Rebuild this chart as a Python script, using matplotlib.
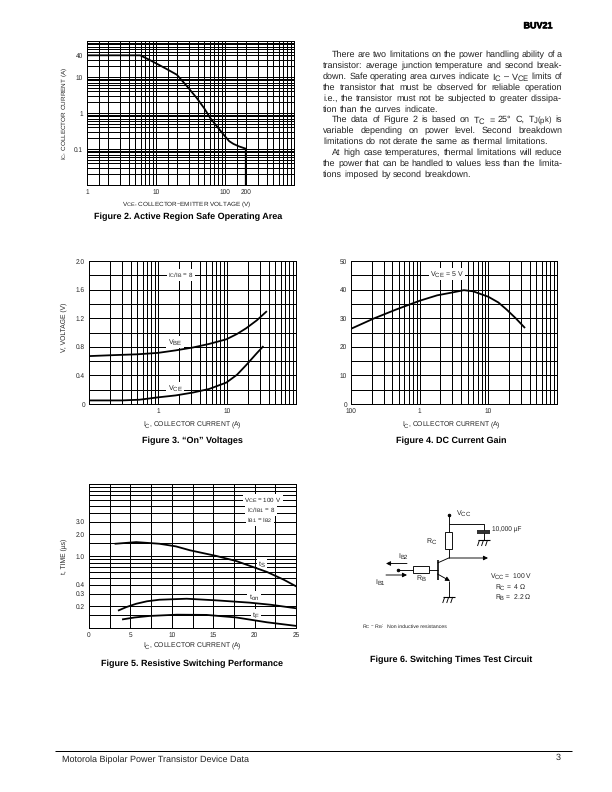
import matplotlib
matplotlib.use("Agg")
import matplotlib.pyplot as plt
import matplotlib.patheffects as pe
import matplotlib._mathtext as mathtext_internal
from matplotlib.patches import Rectangle
from matplotlib.ticker import NullFormatter

plt.rcParams['font.family'] = ['Liberation Sans', 'DejaVu Sans']
plt.rcParams['mathtext.default'] = 'regular'
plt.rcParams['text.hinting'] = 'no_hinting'
# subscripts in the datasheet are nearly full size
mathtext_internal.SHRINK_FACTOR = 0.85

# Figure 2 - safe operating area
soa_v = [1, 3, 5.9, 7.5, 10, 14, 20, 28, 39, 50, 61, 80, 100, 115, 133, 160, 200, 200]
soa_i = [40, 40, 40, 32, 24, 17, 11.6, 5.6, 2.6, 1.35, 0.73, 0.38, 0.225, 0.165, 0.138, 0.118, 0.102, 0.01]
soa_xgrid = [1, 1.5, 2, 3, 4, 5, 6, 7, 8, 9, 10, 15, 20, 30, 40, 50, 60, 70, 80, 90, 100,
             150, 200, 300, 400, 500, 600, 700, 800, 900, 1000]
soa_ygrid = [0.02, 0.03, 0.04, 0.05, 0.06, 0.07, 0.08, 0.09, 0.1, 0.2, 0.3, 0.4, 0.5, 0.6, 0.7, 0.8, 0.9,
             1, 2, 3, 4, 5, 6, 7, 8, 9, 10, 20, 30, 40, 50, 60, 70, 80, 90]
soa_xticks = [1, 10, 100, 200]
soa_xlabels = ['1', '10', '100', '200']
soa_yticks = [0.1, 1, 10, 40]
soa_ylabels = ['0.1', '1', '10', '40']

# Figure 3 and 4 share the log current axis
ic_xgrid = [0.2, 0.3, 0.4, 0.5, 0.6, 0.7, 0.8, 0.9, 1, 2, 3, 4, 5, 6, 7, 8, 9, 10,
            20, 30, 40, 50, 60, 70, 80, 90]

# Figure 3 - on voltages
vbe_i = [0.1, 0.25, 0.5, 1.0, 1.8, 3.2, 5.5, 9.8, 14, 19, 27, 37]
vbe_v = [0.67, 0.685, 0.695, 0.715, 0.75, 0.79, 0.84, 0.905, 0.98, 1.06, 1.17, 1.29]
vce_i = [0.1, 0.3, 0.54, 1.0, 1.8, 3.2, 5.5, 9.8, 14, 19.2, 27, 33]
vce_v = [0.05, 0.05, 0.06, 0.093, 0.12, 0.16, 0.21, 0.30, 0.41, 0.55, 0.71, 0.80]
von_yticks = [0, 0.4, 0.8, 1.2, 1.6, 2.0]
von_ylabels = ['0', '0.4', '0.8', '1.2', '1.6', '2.0']
von_ygrid = [0.2, 0.6, 1.0, 1.4, 1.8]
von_xticks = [1, 10]
von_xlabels = ['1', '10']

# Figure 4 - dc gain
gain_i = [0.1, 0.215, 0.45, 1, 1.8, 3, 4.4, 6, 10, 14, 18.5, 25, 33.5]
gain_h = [26.3, 29.9, 33.0, 36.1, 38.0, 39.0, 39.8, 39.4, 37.5, 35.5, 33, 30, 26.8]
gain_yticks = [0, 10, 20, 30, 40, 50]
gain_ygrid = [5, 15, 25, 35, 45]
gain_xticks = [0.1, 1, 10]
gain_xlabels = ['100', '1', '10']

# Figure 5 - switching times
ts_i = [3.2, 5.7, 8.5, 10.5, 12.2, 15.4, 17.8, 21.5, 23.5, 25]
ts_t = [1.48, 1.56, 1.48, 1.36, 1.2, 1.0, 0.85, 0.6, 0.47, 0.38]
ton_i = [3.6, 4.5, 5.7, 7, 8.5, 11.8, 15.4, 19.4, 22, 25]
ton_t = [0.176, 0.195, 0.217, 0.235, 0.247, 0.255, 0.242, 0.225, 0.21, 0.188]
tf_i = [4.1, 5.5, 7.3, 10.6, 14.2, 17.8, 21.5, 25]
tf_t = [0.132, 0.14, 0.147, 0.153, 0.152, 0.14, 0.12, 0.107]
time_xticks = [0, 5, 10, 15, 20, 25]
time_xgrid = [2.5, 7.5, 12.5, 17.5, 22.5]
time_yticks = [0.2, 0.3, 0.4, 1.0, 2.0, 3.0]
time_ylabels = ['0.2', '0.3', '0.4', '1.0', '2.0', '3.0']
time_ygrid = [0.15, 0.2, 0.3, 0.4, 0.5, 0.6, 0.7, 0.8, 0.9, 1.0, 1.5, 2, 3, 4, 5, 6, 7, 8, 9]

body_lines = [
    (332, True, "There are two limitations on the power handling ability of a"),
    (323, True, "transistor: average junction temperature and second break-"),
    (323, True, "down. Safe operating area curves indicate I$_C$ – V$_{CE}$ limits of"),
    (323, True, "the transistor that must be observed for reliable operation"),
    (323, True, "i.e., the transistor must not be subjected to greater dissipa-"),
    (323, False, "tion than the curves indicate."),
    (332, True, "The data of Figure 2 is based on T$_C$ = 25° C, T$_{J(pk)}$ is"),
    (323, True, "variable depending on power level. Second breakdown"),
    (323, False, "limitations do not derate the same as thermal limitations."),
    (332, True, "At high case temperatures, thermal limitations will reduce"),
    (323, True, "the power that can be handled to values less than the limita-"),
    (323, False, "tions imposed by second breakdown."),
]

fig = plt.figure(figsize=(8.5, 11), dpi=72)
W, H = 612, 792

# page overlay in pixel coordinates for text and the circuit
pg = fig.add_axes([0, 0, 1, 1], facecolor='none', zorder=10)
pg.set_xlim(0, W)
pg.set_ylim(H, 0)
pg.axis('off')


def chart(left, top, right, bottom):
    ax = fig.add_axes([left / W, 1 - bottom / H, (right - left) / W, (bottom - top) / H])
    ax.tick_params(which='both', length=0, labelsize=6.5, pad=4, labelcolor='#222222')
    ax.set_axisbelow(True)
    for s in ax.spines.values():
        s.set_linewidth(1.0)
    return ax


def grid_setup(ax, xticks, xlabels, yticks, ylabels, xminor, yminor):
    ax.set_xticks(xticks)
    ax.set_xticklabels(xlabels)
    ax.set_yticks(yticks)
    ax.set_yticklabels(ylabels)
    ax.set_xticks(xminor, minor=True)
    ax.set_yticks(yminor, minor=True)
    ax.xaxis.set_minor_formatter(NullFormatter())
    ax.yaxis.set_minor_formatter(NullFormatter())
    ax.grid(which='both', color='black', lw=1.0)


ax2 = chart(87, 41, 294, 185)
ax2.set_xscale('log')
ax2.set_yscale('log')
ax2.set_xlim(1, 1000)
ax2.set_ylim(0.01, 100)
grid_setup(ax2, soa_xticks, soa_xlabels, soa_yticks, soa_ylabels, soa_xgrid, soa_ygrid)
ax2.plot(soa_v, soa_i, color='black', lw=1.8)

ax3 = chart(89, 261, 296, 404)
ax3.set_xscale('log')
ax3.set_xlim(0.1, 100)
ax3.set_ylim(0, 2)
grid_setup(ax3, von_xticks, von_xlabels, von_yticks, von_ylabels, ic_xgrid, von_ygrid)
ax3.plot(vbe_i, vbe_v, color='black', lw=1.8)
ax3.plot(vce_i, vce_v, color='black', lw=1.8)

ax4 = chart(351, 261, 557, 404)
ax4.set_xscale('log')
ax4.set_xlim(0.1, 100)
ax4.set_ylim(0, 50)
grid_setup(ax4, gain_xticks, gain_xlabels, gain_yticks, [str(v) for v in gain_yticks], ic_xgrid, gain_ygrid)
ax4.plot(gain_i, gain_h, color='black', lw=1.8)

ax5 = chart(89, 484, 296, 628)
ax5.set_yscale('log')
ax5.set_xlim(0, 25)
ax5.set_ylim(0.1, 10)
grid_setup(ax5, time_xticks, [str(v) for v in time_xticks], time_yticks, time_ylabels, time_xgrid, time_ygrid)
ax5.plot(ts_i, ts_t, color='black', lw=1.8)
ax5.plot(ton_i, ton_t, color='black', lw=1.8)
ax5.plot(tf_i, tf_t, color='black', lw=1.8)


def txt(x, y, s, size=6.7, ha='center', va='center', **kw):
    kw.setdefault('color', '#222222')
    return pg.text(x, y, s, fontsize=size, ha=ha, va=va, **kw)


def boxed(ax, x, y, s, size=6.5):
    # white patch sits over the grid but under the curves
    ax.text(x, y, s, transform=pg.transData, fontsize=size, ha='center', va='center', color='#222222',
            zorder=1.5, bbox=dict(facecolor='white', edgecolor='none', pad=1.5))


def line(xs, ys, lw=0.9):
    pg.plot(xs, ys, color='black', lw=lw, solid_capstyle='butt')


def arrow(x0, y0, x1, y1):
    pg.annotate('', xy=(x1, y1), xytext=(x0, y0),
                arrowprops=dict(arrowstyle='-|>', color='black', lw=0.9, mutation_scale=9, shrinkA=0, shrinkB=0))


def ground(x, y):
    line([x - 6, x + 6], [y, y], lw=1.1)
    for dx in (-4, 0, 4):
        line([x + dx, x + dx - 2], [y, y + 6], lw=0.9)


# header and body
txt(538, 26, 'BUV21', size=9, weight='bold', color='black',
    path_effects=[pe.withStroke(linewidth=0.6, foreground='black')])
fig.canvas.draw()
renderer = fig.canvas.get_renderer()
for i, (x0, justify, s) in enumerate(body_lines):
    # whole pixel baselines, agg rounds fractional ones word by word
    y = round(57 + i * 10.9) + 0.2
    words = s.split(' ')
    items = [txt(0, y, w, size=9, ha='left', va='baseline') for w in words]
    widths = [t.get_window_extent(renderer).width for t in items]
    gap = (562 - x0 - sum(widths)) / (len(words) - 1) if justify else 2.5
    xpos = x0
    for t, w in zip(items, widths):
        t.set_x(xpos)
        xpos += w + gap

# captions and axis titles
txt(188, 217, 'Figure 2. Active Region Safe Operating Area', size=9, weight='bold', color='black')
txt(192, 441, 'Figure 3. “On” Voltages', size=9, weight='bold', color='black')
txt(451, 441, 'Figure 4. DC Current Gain', size=9, weight='bold', color='black')
txt(192, 664, 'Figure 5. Resistive Switching Performance', size=9, weight='bold', color='black')
txt(451, 660, 'Figure 6. Switching Times Test Circuit', size=9, weight='bold', color='black')

txt(187, 204, 'V$_{CE}$, COLLECTOR–EMITTER VOLTAGE (V)', size=6.4)
txt(64, 113, 'I$_C$, COLLECTOR CURRENT (A)', rotation=90, size=6.4)
txt(192, 425, 'I$_C$, COLLECTOR CURRENT (A)')
txt(64, 327, 'V, VOLTAGE (V)', rotation=90)
txt(451, 425, 'I$_C$, COLLECTOR CURRENT (A)')
txt(192, 646, 'I$_C$, COLLECTOR CURRENT (A)')
txt(64, 556, 't, TIME (µs)', rotation=90)

# labels on the curves
boxed(ax3, 181, 275, 'I$_C$/I$_B$ = 8', size=6.3)
boxed(ax3, 175, 342, 'V$_{BE}$', size=7)
boxed(ax3, 175, 388, 'V$_{CE}$', size=7)
boxed(ax4, 447, 274, 'V$_{CE}$ = 5 V', size=7)
boxed(ax5, 263, 500, 'V$_{CE}$ = 100 V', size=6.3)
boxed(ax5, 261, 510, 'I$_C$/I$_{B1}$ = 8', size=6.3)
boxed(ax5, 260, 520, 'I$_{B1}$ = I$_{B2}$', size=6.3)
boxed(ax5, 262, 564, 't$_S$', size=7)
boxed(ax5, 254, 597, 't$_{on}$', size=7)
boxed(ax5, 256, 615, 't$_F$', size=7)

# Figure 6 circuit
pg.plot([448.7], [514.5], 'o', color='black', ms=2.5)
line([448.7, 448.7], [514.5, 532])
pg.add_patch(Rectangle((445, 532), 7.3, 17, fc='white', ec='black', lw=0.9))
line([448.7, 448.7], [549, 558])
line([448.7, 483.5, 483.5], [523.5, 523.5, 530])
line([477, 490], [530.5, 530.5], lw=1.6)
line([477, 490], [532.5, 532.5], lw=1.6)
line([483.5, 483.5], [532.5, 540])
ground(483.5, 540)
arrow(448.7, 558, 488, 558)
line([437.5, 437.5], [560, 580], lw=1.6)
line([437.5, 448.7], [563, 558])
line([397.5, 413], [569.5, 569.5])
pg.plot([397.5], [569.5], 'o', color='black', ms=2.5)
pg.add_patch(Rectangle((413, 566), 16, 7, fc='white', ec='black', lw=0.9))
line([429, 437.5], [569.5, 569.5])
arrow(437.5, 574, 450, 581)
line([448.7, 448.7], [581, 597])
ground(448.7, 597)
arrow(407, 563.5, 386, 563.5)
arrow(386, 575, 407, 575)

txt(456, 513, 'V$_{CC}$', ha='left', size=7)
txt(432, 541, 'R$_C$', size=7)
txt(492, 530, '10,000 µF', ha='left', size=6.5)
txt(404, 556, 'I$_{B2}$', size=7)
txt(381, 582, 'I$_{B1}$', size=7)
txt(421, 578, 'R$_B$', size=7)
txt(490, 577, 'V$_{CC}$ =  100 V', size=6.7, ha='left')
txt(495, 587.5, 'R$_C$ =  4 Ω', size=6.7, ha='left')
txt(495, 597.5, 'R$_B$ =  2.2 Ω', size=6.7, ha='left')
txt(362, 628, 'R$_C$ – R$_B$:', size=5.2, ha='left', va='baseline')
txt(387, 628, 'Non inductive resistances', size=5.2, ha='left', va='baseline')

# footer
line([55, 572], [751, 751], lw=1.0)
txt(62, 760, 'Motorola Bipolar Power Transistor Device Data', size=9, ha='left')
txt(558, 758, '3', size=9)

fig.savefig('out.png', dpi=72)
